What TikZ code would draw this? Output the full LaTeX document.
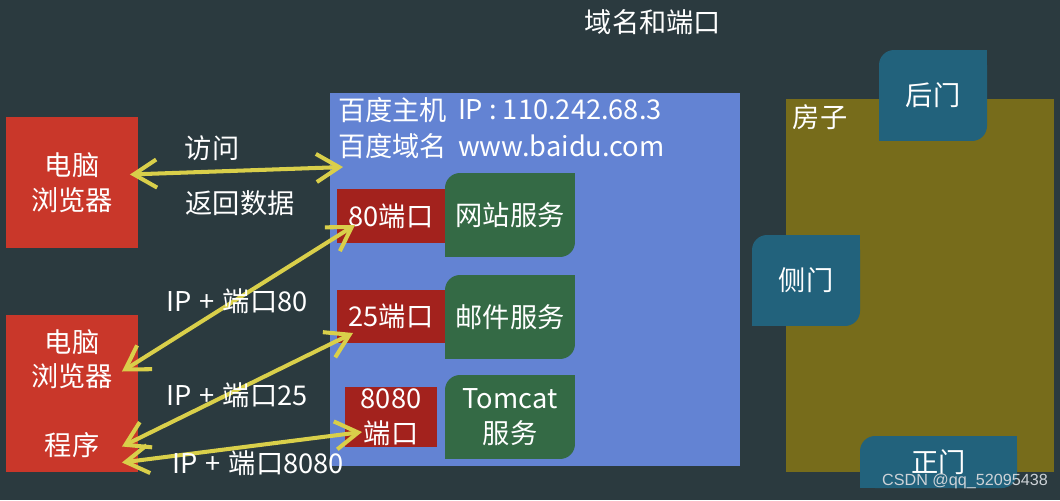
\documentclass[tikz,border=0pt]{standalone}
\usepackage{fontspec}
\setmainfont{Noto Sans CJK SC}
\newfontfamily\markfont{Liberation Sans}
\usetikzlibrary{arrows.meta}

\definecolor{bgslate}{RGB}{43,58,63}
\definecolor{hostblue}{RGB}{99,131,211}
\definecolor{pcred}{RGB}{201,55,42}
\definecolor{portred}{RGB}{163,34,29}
\definecolor{svcgreen}{RGB}{52,106,69}
\definecolor{houseolive}{RGB}{119,108,27}
\definecolor{doorblue}{RGB}{34,98,124}
\definecolor{arrowyellow}{RGB}{217,207,74}
\definecolor{marksilver}{RGB}{205,210,215}

\newcommand{\labfont}{\fontsize{15.5}{19.8}\selectfont}
\newcommand{\plusgap}{\hspace{0.3em}+\hspace{0.3em}}

\begin{document}
\begin{tikzpicture}[x=0.02cm, y=-0.02cm,
	every node/.style={text=white, font=\labfont, inner sep=0pt, outer sep=0pt},
	pcbox/.style={fill=pcred, minimum width=2.64cm, align=center},
	portbox/.style={fill=portred, align=center},
	svcbox/.style={fill=svcgreen, rounded corners=0.3cm, minimum width=2.6cm, minimum height=1.68cm, align=center},
	doorbox/.style={fill=doorblue, rounded corners=0.3cm, align=center},
	link/.style={draw=arrowyellow, line width=2.3pt, <->, >={Straight Barb[length=13pt,width=16pt]}}
]

\useasboundingbox (0,0) rectangle (1060,500);
\fill[bgslate] (0,0) rectangle (1060,500);


\node (title) at (653,22) {域名和端口};


% house and doors
\node[fill=houseolive, minimum width=5.36cm, minimum height=7.46cm] (house) at (920,285.5) {};
\node (houselbl) at (820,117) {房子};

\node[doorbox, minimum width=2.16cm, minimum height=1.82cm] (backdoor) at (933,95.5) {后门};
\node[doorbox, minimum width=2.16cm, minimum height=1.82cm] (sidedoor) at (806,280.5) {侧门};
\node[doorbox, minimum width=3.14cm, minimum height=1.04cm] (frontdoor) at (938.5,462) {正门};


% host
\node[fill=hostblue, minimum width=8.2cm, minimum height=7.46cm] (host) at (535,279.5) {};

\node[anchor=west] (hostname) at (338,110) {百度主机};
\node[anchor=west] (hostip) at (458,110) {IP : 110.242.68.3};
\node[anchor=west] (domainname) at (338,146) {百度域名};
\node[anchor=west] (domain) at (458,146) {www.baidu.com};

\node[portbox, minimum width=2.16cm, minimum height=1.08cm] (p80) at (391,216) {80端口};
\node[portbox, minimum width=2.16cm, minimum height=1.06cm] (p25) at (391,316.5) {25端口};
\node[portbox, minimum width=1.84cm, minimum height=1.2cm] (p8080) at (391,417) {8080\\端口};

\node[svcbox] (web) at (510,215) {网站服务};
\node[svcbox] (mail) at (510,317) {邮件服务};
\node[svcbox] (tomcat) at (510,417) {Tomcat\\服务};


\foreach \n/\c in {web/svcgreen, mail/svcgreen, tomcat/svcgreen, backdoor/doorblue, sidedoor/doorblue, frontdoor/doorblue}
{
	\fill[\c] (\n.north east) rectangle ++(-16,16);
	\fill[\c] (\n.south west) rectangle ++(16,-16);
}


% clients
\node[pcbox, minimum height=2.62cm] (pc1) at (72,182.5) {电脑\\浏览器};
\node[pcbox, minimum height=3.14cm] (pc2) at (72,393.5) {电脑\\浏览器\\[0.68cm]程序};


\draw[link] ([shift={(-8,-8)}]pc1.east) -- ([shift={(13,74)}]host.north west);
\draw[link] ([shift={(-16,-22)}]pc2.east) -- ([shift={(18,9)}]p80.west);
\draw[link] ([shift={(-16,53)}]pc2.east) -- ([shift={(16,16.5)}]p25.west);
\draw[link] ([shift={(-16,69)}]pc2.east) -- ([shift={(17,15)}]p8080.west);

\node (visit) at (212,148) {访问};
\node (reply) at (240,203) {返回数据};
\node (via80) at (237,301) {IP\plusgap 端口80};
\node (via25) at (237,395) {IP\plusgap 端口25};
\node (via8080) at (258,463) {IP\plusgap 端口8080};


\node[text=marksilver, font=\markfont\fontsize{9.2}{11}\selectfont] (mark) at (965,481) {CSDN @qq\_52095438};

\end{tikzpicture}
\end{document}
